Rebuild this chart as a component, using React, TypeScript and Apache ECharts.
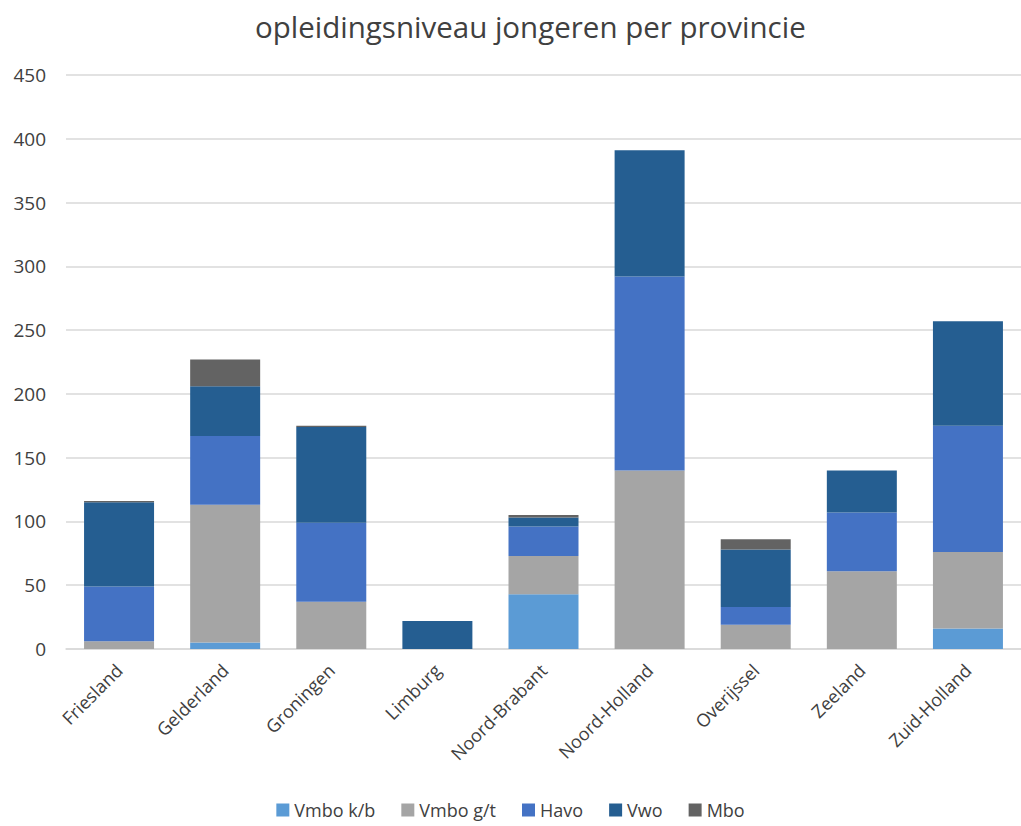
import React, { useEffect, useRef } from "react";
import * as echarts from "echarts";

const categories = ["Friesland", "Gelderland", "Groningen", "Limburg", "Noord-Brabant", "Noord-Holland", "Overijssel", "Zeeland", "Zuid-Holland"];
const vmboKB = [0, 5, 0, 0, 43, 0, 0, 0, 16];
const vmboGT = [6, 108, 37, 0, 30, 140, 19, 61, 60];
const havo = [43, 54, 62, 0, 23, 152, 14, 46, 99];
const vwo = [66, 39, 75, 22, 7, 99, 45, 33, 82];
const mbo = [1, 21, 1, 0, 2, 0, 8, 0, 0];

const seriesNames = ["Vmbo k/b", "Vmbo g/t", "Havo", "Vwo", "Mbo"];
const seriesData = [vmboKB, vmboGT, havo, vwo, mbo];
const colors = ["#5B9BD5", "#A5A5A5", "#4472C4", "#255E91", "#636363"];

const FONT = "'Open Sans', 'Noto Sans', sans-serif";

export default function App() {
  const ref = useRef<HTMLDivElement>(null);
  useEffect(() => {
    document.body.style.overflow = "hidden";
    const chart = echarts.init(ref.current!, null, { renderer: "svg" });
    chart.setOption({
      animation: false,
      backgroundColor: "#ffffff",
      title: {
        text: "opleidingsniveau jongeren per provincie",
        left: 250,
        top: 6,
        textStyle: { fontFamily: FONT, fontSize: 29.5, fontWeight: "normal", color: "#404040" },
      },
      legend: {
        bottom: 2,
        left: "center",
        itemWidth: 13,
        itemHeight: 13,
        itemGap: 26,
        icon: "rect",
        textStyle: { fontFamily: FONT, fontSize: 18, color: "#404040" },
        data: seriesNames,
      },
      grid: { left: 66, right: -6, top: 75, bottom: 177, containLabel: false },
      xAxis: {
        type: "category",
        data: categories,
        axisLine: { lineStyle: { color: "#d9d9d9", width: 1.5 } },
        axisTick: { show: false },
        axisLabel: {
          rotate: 45,
          margin: 18,
          fontFamily: FONT,
          fontSize: 18,
          color: "#404040",
        },
      },
      yAxis: {
        type: "value",
        min: 0,
        max: 450,
        interval: 50,
        axisLine: { show: false },
        axisTick: { show: false },
        splitLine: { lineStyle: { color: "#d9d9d9", width: 1.5 } },
        axisLabel: { margin: 20, fontFamily: FONT, fontSize: 19, color: "#404040" },
      },
      series: seriesNames.map((name, i) => ({
        name,
        type: "bar",
        stack: "total",
        data: seriesData[i],
        barWidth: 70,
        itemStyle: { color: colors[i] },
      })),
    });
    return () => chart.dispose();
  }, []);
  return (
    <div
      ref={ref}
      style={{ position: "fixed", left: 0, top: 0, width: 1021, height: 826 }}
    />
  );
}
